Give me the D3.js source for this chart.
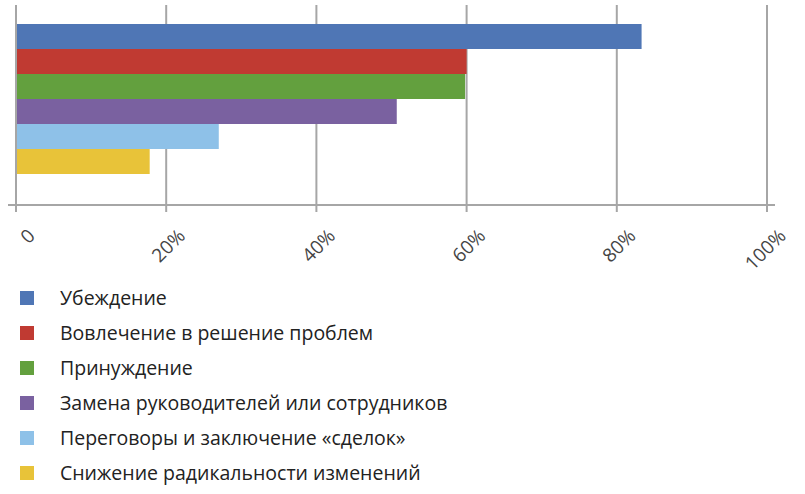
<!DOCTYPE html>
<html><head><meta charset="utf-8">
<script src="https://cdn.jsdelivr.net/npm/d3@7"></script>
<style>body{margin:0;background:#fff;font-family:"Open Sans",sans-serif;}</style>
</head><body><svg id="c" width="805" height="494"></svg>
<script>
const categories = ['Убеждение', 'Вовлечение в решение проблем', 'Принуждение', 'Замена руководителей или сотрудников', 'Переговоры и заключение «сделок»', 'Снижение радикальности изменений'];
const values = [83.3, 60, 59.8, 50.7, 27, 17.8];
const colors = ['#4f76b5', '#c03a32', '#63a03e', '#7a61a0', '#8ec1e8', '#e8c339'];
const ticks = [0, 20, 40, 60, 80, 100];

const svg = d3.select('#c');
const x = d3.scaleLinear().domain([0, 100]).range([16, 767]);
const y = d3.scaleBand().domain(categories).range([24, 174]).padding(0);
const axisY = 205;

// gridlines + ticks
svg.append('g').selectAll('line').data(ticks).enter().append('line')
    .attr('x1', d => x(d)).attr('x2', d => x(d)).attr('y1', 5).attr('y2', axisY + 7)
    .attr('stroke', '#a6a6a6').attr('stroke-width', 2);
svg.append('line').attr('x1', 8).attr('x2', 775).attr('y1', axisY).attr('y2', axisY)
    .attr('stroke', '#a6a6a6').attr('stroke-width', 2);

svg.append('g').selectAll('rect').data(values).enter().append('rect')
    .attr('x', x(0) + 1).attr('y', (d, i) => y(categories[i]))
    .attr('width', d => x(d) - x(0) - 1).attr('height', y.bandwidth())
    .attr('fill', (d, i) => colors[i]);

svg.append('g').selectAll('text').data(ticks).enter().append('text')
    .attr('transform', d => `translate(${x(d) + 10},${axisY + 22}) rotate(-45)`)
    .attr('text-anchor', 'end').attr('dy', '0.75em')
    .style('font-size', '19px').style('fill', '#444')
    .text(d => d === 0 ? '0' : d + '%');

const leg = svg.append('g').selectAll('g').data(categories).enter().append('g')
    .attr('transform', (d, i) => `translate(20,${298 + i * 35})`);
leg.append('rect').attr('x', 0).attr('y', -7).attr('width', 14).attr('height', 14)
    .attr('fill', (d, i) => colors[i]);
leg.append('text').attr('x', 40).attr('dy', '0.35em')
    .style('font-size', '19.5px').style('fill', '#222').text(d => d);
</script></body></html>
